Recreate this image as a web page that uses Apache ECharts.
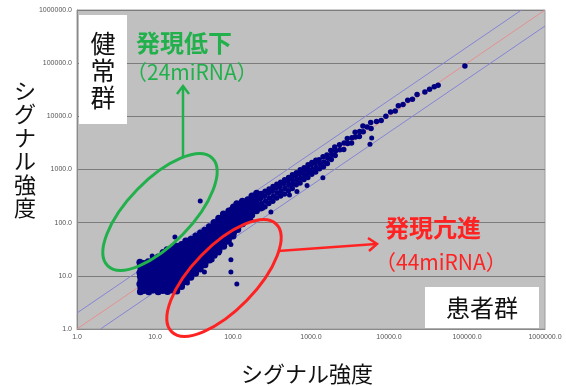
<!DOCTYPE html>
<html>
<head>
<meta charset="utf-8">
<script src="https://cdn.jsdelivr.net/npm/echarts@6/dist/echarts.min.js"></script>
<style>
  html, body { margin: 0; padding: 0; background: #fff; }
  #chart { width: 566px; height: 386px; }
</style>
</head>
<body>
<div id="chart"></div>
<script>
// Signal intensity per miRNA: [patient group, healthy group]

// Dense low-intensity cluster
const clusterPoints = [
  [6.5,5.0],[6.6,5.9],[6.4,7.0],[6.6,8.2],[6.5,9.7],[6.4,11.4],[6.6,13.5],[6.5,15.9],[6.4,18],
  [7.2,5.3],[7.3,6.3],[7.1,7.5],[7.3,8.9],[7.2,10.5],[7.0,12.4],[7.3,14.6],[7.2,17],
  [8.3,5.0],[8.1,5.9],[8.4,6.9],[8.2,8.1],[8.5,9.6],[8.3,11.3],[8.0,13.3],[8.4,15.7],[8.2,18.5],
  [9.5,5.4],[9.7,6.4],[9.3,7.6],[9.6,9.0],[9.4,10.6],[9.8,12.5],[9.5,14.8],[9.2,17.5],[9.6,20.5],
  [11,5.0],[11.3,5.8],[10.8,6.9],[11.2,8.2],[10.9,9.7],[11.4,11.5],[11,13.6],[10.7,16],[11.2,19],[11,22.5],
  [12.6,5.3],[12.9,6.3],[12.4,7.4],[12.8,8.8],[12.5,10.4],[13,12.3],[12.6,14.5],[12.3,17.1],[12.8,20.2],[12.5,24],[12.7,27.5],
  [14.5,5.1],[14.2,6.0],[14.8,7.1],[14.4,8.4],[14.9,9.9],[14.3,11.7],[14.6,13.9],[14.1,16.4],[14.7,19.4],[14.4,23],[14.6,27],[14.3,31],
  [16.6,5.4],[17,6.4],[16.3,7.6],[16.8,9.0],[16.4,10.6],[17.1,12.5],[16.5,14.8],[16.9,17.5],[16.2,20.6],[16.7,24.3],[16.5,28.7],[16.8,33.5],
  [19,5.2],[19.4,6.1],[18.7,7.2],[19.2,8.5],[18.8,10.1],[19.5,11.9],[19,14.1],[18.6,16.6],[19.3,19.6],[18.9,23.2],[19.4,27.4],[19,32],[18.8,36],
  [21.9,6.3],[22.4,7.4],[21.5,8.8],[22.2,10.4],[21.7,12.3],[22.5,14.5],[21.9,17.1],[21.4,20.2],[22.3,23.8],[21.8,28.1],[22.2,33.2],[21.9,39],
  [25.1,7.8],[25.7,9.2],[24.6,10.9],[25.4,12.8],[24.9,15.1],[25.8,17.9],[25.1,21.1],[24.5,24.9],[25.5,29.4],[25,34.7],[25.3,41],[24.8,45],
  [28.8,9.4],[29.5,11.1],[28.2,13.1],[29.1,15.5],[28.5,18.3],[29.6,21.6],[28.8,25.5],[28.1,30.1],[29.3,35.5],[28.7,42],[29,49],
  [33.1,11.2],[33.9,13.2],[32.4,15.6],[33.5,18.4],[32.8,21.7],[34,25.6],[33.1,30.2],[32.3,35.6],[33.7,42],[33,49.6],[33.4,56],
  [38,13.4],[38.9,15.8],[37.2,18.6],[38.5,22],[37.6,26],[39,30.6],[38,36.1],[37.1,42.6],[38.7,50.3],[37.8,59],[38.3,64],
  [43.7,16.2],[44.7,19.1],[42.8,22.5],[44.2,26.6],[43.2,31.4],[44.9,37],[43.7,43.7],[42.6,51.6],[44.4,60.8],[43.5,71.8],
  [50.1,19.8],[51.3,23.4],[49.1,27.6],[50.7,32.5],[49.6,38.4],[51.5,45.3],[50.1,53.4],[48.9,63],[50.9,74.4],[49.8,84],
  [57.5,24.3],[58.8,28.7],[56.3,33.8],[58.2,39.9],[56.9,47.1],[59,55.6],[57.5,65.6],[56.1,77.4],[58.4,91.3],[57.2,101],
  [66,29.5],[67.5,34.8],[64.6,41.1],[66.8,48.5],[65.3,57.2],[67.7,67.5],[66,79.6],[64.4,94],[67,110],[65.6,121],
  [75.9,36],[77.6,42.5],[74.3,50.1],[76.8,59.1],[75,69.8],[77.9,82.3],[75.9,97.1],[74,114.6],[77.1,135],[75.4,146],
  [87.1,45],[89,53],[85.2,62],[88.1,73],[86.1,86],[89.4,101],[87.1,119],[85,141],[88.4,166],
  [100,56],[102,66],[98,78],[101,92],[99,108],[103,127],[100,150],[97.6,177],[101.5,198],
  [115,74],[117,87],[112.5,103],[116,121],[113.6,143],[118,168],[115,198],[112,226],
  [132,95],[135,112],[129,132],[134,156],[130,184],[136,217],[132,252],
  [151,119],[154,140],[148,165],[153,195],[149,230],[155,271],
  [174,140],[178,165],[170,195],[176,230],[172,271],[175,318],
  [200,168],[204,198],[196,234],[202,276],[198,326],[201,358]
];

// Diagonal band of higher-intensity miRNAs
const bandPoints = [
  [229,183],[232,229],[226,286],[230,355],
  [257,200],[261,252],[253,314],[258,391],
  [288,230],[292,288],[284,357],[290,432],
  [324,253],[329,314],[319,389],[326,480],
  [363,290],[368,363],[358,443],[365,526],
  [407,317],[412,391],[401,480],[409,578],
  [457,347],[463,439],[451,548],[459,640],
  [513,400],[520,503],[506,605],[516,708],
  [575,437],[583,546],[567,661],[578,794],
  [646,517],[655,633],[637,762],[650,872],
  [724,557],[734,688],[714,833],[728,985],
  [813,650],[824,797],[802,959],[817,1081],
  [912,711],[925,876],[900,1040],[917,1231],
  [1023,818],[1037,1003],[1009,1228],[1028,1350],
  [1148,895],[1164,1091],[1133,1320],[1154,1492],
  [1288,1030],[1306,1288],[1271,1520],
  [1445,1127],[1465,1387],[1426,1734],
  [1622,1298],[1645,1622],[1600,1865],
  [1820,1547],[1846,1911],[1796,2275],
  [2042,1838],[2071,2246],[2015,2655],
  [2344,2344],[2320,2930],
  [2630,2367],[2660,3156],
  [2951,3099],[2920,3836],
  [3311,3145],[3350,3973],
  [3715,4087],[3680,5015],
  [4169,4169],[4210,5211],
  [4677,5145],[4630,6548],
  [5248,6298],
  [5888,5888],[5830,7654],
  [6918,7956],
  [7943,8340],
  [9120,10030],
  [10470,12040],
  [12020,12620],
  [13180,15820],
  [15140,16650],
  [17380,19990],
  [19950,20950],
  [22910,25660],
  [28840,28840],
  [33110,32450],
  [38020,36120],
  [42660,38390],
  [94000,88000]
];

// Isolated miRNAs away from the main distribution
const outlierPoints = [
  [38,256],[18,54],[9.2,23.5],
  [94,39],[66,27],[94,20],[54,20],[43,11.8],[94,11.8],[112,7],[26,7.3],[49,38],
  [170,112],[240,187],[306,158],[530,330],[660,385],[890,500],[1420,700],[5700,3000],[6000,3900]
];

// Reference lines: equal expression and 2-fold boundaries
const equalLine = [[1, 1], [1000000, 1000000]];
const upperFoldLine = [[1, 2], [500000, 1000000]];
const lowerFoldLine = [[2, 1], [1000000, 500000]];

// Decade tick labels
const tickLabels = ['1.0', '10.0', '100.0', '1000.0', '10000.0', '100000.0', '1000000.0'];

const FONT = '"Noto Sans CJK JP", "Noto Sans", sans-serif';
const GREEN = '#22b04c';
const RED = '#ff2222';
const NAVY = '#000080';

const tickFormatter = v => tickLabels[Math.round(Math.log10(v))] || '';

const chart = echarts.init(document.getElementById('chart'), null, { renderer: 'canvas' });

const option = {
  animation: false,
  backgroundColor: '#ffffff',
  grid: {
    left: 77, right: 21, top: 10, bottom: 57,
    show: true, backgroundColor: '#c0c0c0', borderColor: '#9c9c9c', borderWidth: 1
  },
  xAxis: {
    type: 'log', logBase: 10, min: 1, max: 1000000, interval: 1,
    axisLine: { show: true, lineStyle: { color: '#8a8a8a', width: 1 } },
    axisTick: { show: false },
    splitLine: { show: false },
    axisLabel: { fontSize: 7, color: '#555', margin: 5, fontFamily: 'Liberation Sans',
                 formatter: tickFormatter, showMinLabel: true, showMaxLabel: true }
  },
  yAxis: {
    type: 'log', logBase: 10, min: 1, max: 1000000, interval: 1,
    axisLine: { show: true, lineStyle: { color: '#8a8a8a', width: 1 } },
    axisTick: { show: false },
    splitLine: { show: true, lineStyle: { color: '#7c7c7c', width: 1.2 } },
    axisLabel: { fontSize: 7, color: '#555', margin: 5, fontFamily: 'Liberation Sans',
                 formatter: tickFormatter, showMinLabel: true, showMaxLabel: true }
  },
  series: [
    { type: 'line', data: equalLine, symbol: 'none', silent: true, z: 1,
      lineStyle: { color: '#e49090', width: 1 } },
    { type: 'line', data: upperFoldLine, symbol: 'none', silent: true, z: 1,
      lineStyle: { color: '#8484d4', width: 1 } },
    { type: 'line', data: lowerFoldLine, symbol: 'none', silent: true, z: 1,
      lineStyle: { color: '#8484d4', width: 1 } },
    { type: 'scatter', data: clusterPoints, symbol: 'circle', symbolSize: 7, z: 3,
      itemStyle: { color: NAVY, opacity: 1 } },
    { type: 'scatter', data: bandPoints, symbol: 'circle', symbolSize: 5.5, z: 3,
      itemStyle: { color: NAVY, opacity: 1 } },
    { type: 'scatter', data: outlierPoints, symbol: 'circle', symbolSize: 5, z: 3,
      itemStyle: { color: NAVY, opacity: 1 } }
  ],
  graphic: [
    // group labels
    { type: 'rect', z: 50, shape: { x: 79, y: 15, width: 48, height: 109 }, style: { fill: '#fff' } },
    { type: 'text', z: 51, x: 103, y: 70,
      style: { text: '健\n常\n群', fontSize: 25, fontFamily: FONT, fill: '#111',
               align: 'center', verticalAlign: 'middle', lineHeight: 27 } },
    { type: 'rect', z: 50, shape: { x: 425, y: 287, width: 114, height: 41 }, style: { fill: '#fff' } },
    { type: 'text', z: 51, x: 482, y: 308,
      style: { text: '患者群', fontSize: 24, fontFamily: FONT, fill: '#111',
               align: 'center', verticalAlign: 'middle' } },

    // down-regulated annotation
    { type: 'text', z: 51, x: 136, y: 43,
      style: { text: '発現低下', fontSize: 24, fontWeight: 'bold', fontFamily: FONT, fill: GREEN,
               align: 'left', verticalAlign: 'middle' } },
    { type: 'text', z: 51, x: 126, y: 72,
      style: { text: '（24miRNA）', fontSize: 21, fontFamily: FONT, fill: GREEN,
               align: 'left', verticalAlign: 'middle' } },
    { type: 'ellipse', z: 60, x: 160, y: 212, rotation: 0.8,
      shape: { cx: 0, cy: 0, rx: 75, ry: 32 },
      style: { fill: 'none', stroke: GREEN, lineWidth: 3 } },
    { type: 'polyline', z: 60, shape: { points: [[183, 158], [183, 86]] },
      style: { stroke: GREEN, lineWidth: 2.5, fill: 'none' } },
    { type: 'polyline', z: 60, shape: { points: [[177, 94], [183, 86], [189, 94]] },
      style: { stroke: GREEN, lineWidth: 2.5, fill: 'none' } },

    // up-regulated annotation
    { type: 'text', z: 51, x: 385, y: 228,
      style: { text: '発現亢進', fontSize: 24, fontWeight: 'bold', fontFamily: FONT, fill: RED,
               align: 'left', verticalAlign: 'middle' } },
    { type: 'text', z: 51, x: 375, y: 262,
      style: { text: '（44miRNA）', fontSize: 21, fontFamily: FONT, fill: RED,
               align: 'left', verticalAlign: 'middle' } },
    { type: 'ellipse', z: 60, x: 224, y: 278, rotation: 0.8,
      shape: { cx: 0, cy: 0, rx: 75, ry: 32 },
      style: { fill: 'none', stroke: RED, lineWidth: 3 } },
    { type: 'polyline', z: 60, shape: { points: [[278, 251], [376, 244]] },
      style: { stroke: RED, lineWidth: 2.5, fill: 'none' } },
    { type: 'polyline', z: 60, shape: { points: [[368, 238], [377, 244], [369, 251]] },
      style: { stroke: RED, lineWidth: 2.5, fill: 'none' } },

    // axis titles
    { type: 'text', z: 51, x: 25, y: 149,
      style: { text: 'シ\nグ\nナ\nル\n強\n度', fontSize: 22, fontFamily: FONT, fill: '#111',
               align: 'center', verticalAlign: 'middle', lineHeight: 23.5 } },
    { type: 'text', z: 51, x: 307, y: 374,
      style: { text: 'シグナル強度', fontSize: 22, fontFamily: FONT, fill: '#111',
               align: 'center', verticalAlign: 'middle' } }
  ]
};

chart.setOption(option);
</script>
</body>
</html>
